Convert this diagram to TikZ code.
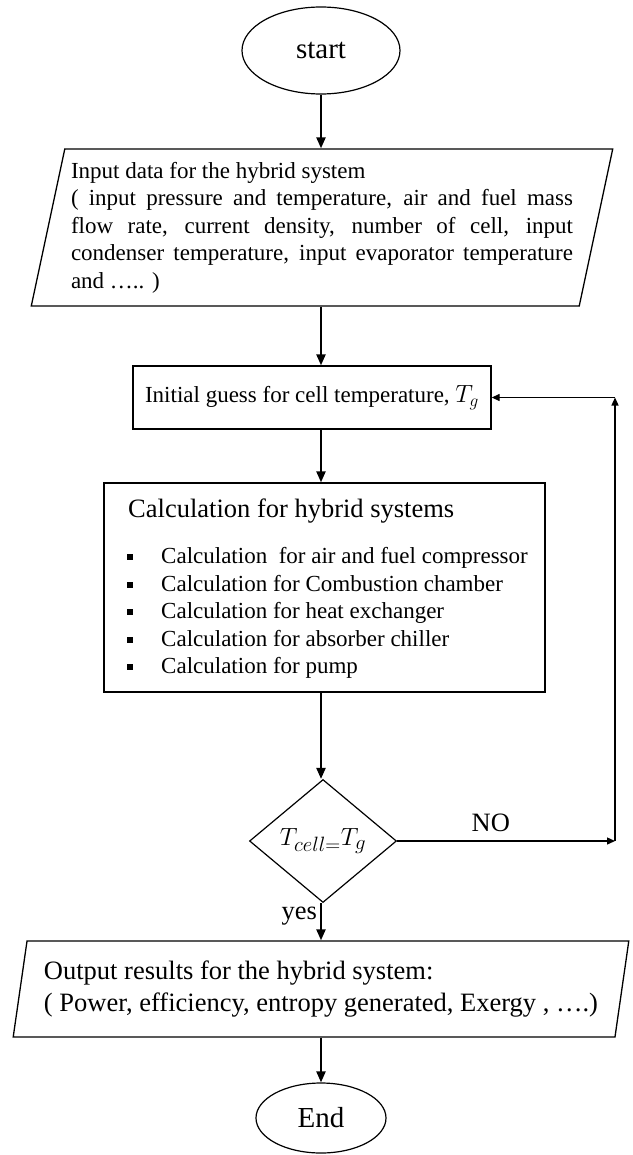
\documentclass[tikz,border=0pt]{standalone}
\usepackage{fontspec}
\setmainfont{Liberation Serif}
\usetikzlibrary{shapes.geometric,arrows.meta}
\newcommand{\bodysize}{\fontsize{23}{27.5}\selectfont}
\newcommand{\bigsize}{\fontsize{26.5}{32}\selectfont}
\tikzset{
    flowline/.style={line width=2.2pt,-{Triangle[length=11pt,width=9pt]}},
    loopline/.style={line width=1.3pt,-{Triangle[length=8pt,width=7pt]}},
    terminal/.style={draw,line width=1.2pt,ellipse,inner sep=0pt,font=\fontsize{29}{34}\selectfont},
    iobox/.style={draw,line width=1.3pt,trapezium,trapezium stretches=true,inner sep=0pt},
    procbox/.style={draw,line width=1.3pt,rectangle,inner sep=0pt},
    decision/.style={draw,line width=1.2pt,diamond,inner sep=0pt,font=\fontsize{28}{32}\selectfont},
    bulletmark/.style={fill,rectangle,minimum size=6pt,inner sep=0pt},
    label/.style={inner sep=2pt,font=\bigsize}
}
\begin{document}
\begin{tikzpicture}[x=1pt,y=-1pt,font=\bodysize]
    \useasboundingbox (0,0) rectangle (632,1155);
    \coordinate (col) at (321,0);
    %% Start and input data
    \node[terminal,minimum width=158pt,minimum height=87pt] (start) at (321,50.5) {start};
    \node[iobox,trapezium left angle=76,trapezium right angle=104,
          minimum width=584pt,minimum height=157pt,text width=502pt,align=justify]
          (input) at (322,227.5) {Input data for the hybrid system\\
          ( input pressure and temperature, air and fuel mass\linebreak
          flow rate, current density, number of cell, input\linebreak
          condenser temperature, input evaporator temperature\linebreak
          and ….. )};
        \draw[flowline] (col |- start.south) -- (col |- input.north);
    %% Initial guess
    \node[procbox,minimum width=358pt,minimum height=63pt] (guess) at (312,397.5)
          {Initial guess for cell temperature, $T_g$};
        \draw[flowline] (col |- input.south) -- (col |- guess.north);
    %% Calculation block
    \node[procbox,minimum width=441pt,minimum height=209pt] (calc) at (324.5,587.5) {};
    \node[anchor=base west,inner sep=0pt,font=\bigsize] (calctitle) at (128,517)
          {Calculation for hybrid systems};
    \foreach \txt [count=\i] in {Calculation \ for air and fuel compressor,
                                 Calculation for Combustion chamber,
                                 Calculation for heat exchanger,
                                 Calculation for absorber chiller,
                                 Calculation for pump}
    {
        \node[bulletmark] (mark\i) at (130,{557+27.5*(\i-1)}) {};
        \node[anchor=base west,inner sep=0pt] (item\i) at (161,{563.5+27.5*(\i-1)}) {\txt};
    }
        \draw[flowline] (col |- guess.south) -- (col |- calc.north);
    %% Check and loop back
    \node[decision,minimum width=147pt,minimum height=123pt] (check) at (323,841)
          {$T_{cell=}T_g$};
        \draw[flowline] (col |- calc.south) -- (col |- check.north);
    \coordinate (noend) at (615,841);
    \coordinate (turn)  at (noend |- guess.east);
        \draw[loopline] (check.east) -- node[label,above=7pt,pos=0.43] (nolabel) {NO} (noend);
        \draw[loopline] (noend) -- (turn);
        \draw[loopline] (turn) -- (guess.east);
    %% Output and end
    \node[iobox,trapezium left angle=77,trapezium right angle=103,
          minimum width=621pt,minimum height=96pt,align=left,font=\bigsize]
          (output) at (321,989) {Output results for the hybrid system:\\
          ( Power, efficiency, entropy generated, Exergy , ….)};
        \draw[flowline] (col |- check.south) -- node[label,left,pos=0.35,xshift=-1pt] (yeslabel) {yes} (col |- output.north);
    \node[terminal,minimum width=130pt,minimum height=70pt] (end) at (321,1118) {End};
        \draw[flowline] (col |- output.south) -- (col |- end.north);
\end{tikzpicture}
\end{document}
